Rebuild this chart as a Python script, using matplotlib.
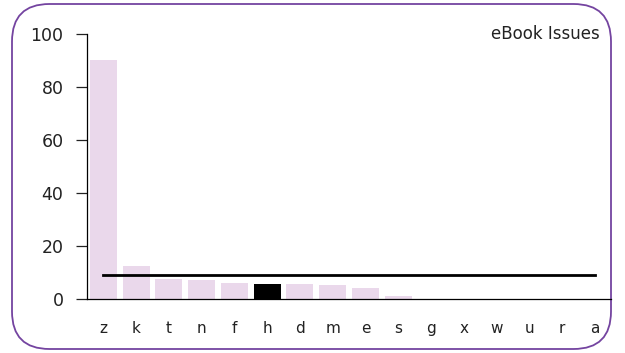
import matplotlib
matplotlib.use("Agg")
import matplotlib.pyplot as plt
from matplotlib.patches import FancyBboxPatch

categories = ["z", "k", "t", "n", "f", "h", "d", "m", "e", "s", "g", "x", "w", "u", "r", "a"]
values = [90.2, 12.5, 7.5, 7.2, 5.9, 5.8, 5.5, 5.3, 4.2, 1.1, 0, 0, 0, 0, 0, 0]
highlight = "h"
average = [9.1] * len(categories)
yticks = [0, 20, 40, 60, 80, 100]
title = "eBook Issues"

plt.rcParams['font.family'] = ['DejaVu Sans']

W, H = 625, 353
fig = plt.figure(figsize=(W / 100, H / 100), dpi=100)

# rounded border
border = FancyBboxPatch((12 / W, 4 / H), (611 - 12) / W, (349 - 4) / H,
                        boxstyle="round,pad=0,rounding_size=0.06",
                        transform=fig.transFigure, facecolor="none",
                        edgecolor="#7444a0", linewidth=1.3,
                        mutation_aspect=W / H, zorder=-1)
fig.patches.append(border)

ax = fig.add_axes([87 / W, (H - 299) / H, (611 - 87) / W, (299 - 34) / H])
ax.set_zorder(2)
ax.patch.set_alpha(0)

x = list(range(len(categories)))
colors = ["black" if c == highlight else "#ead8eb" for c in categories]
ax.bar(x, values, width=0.82, color=colors, zorder=1)
ax.plot(x, average, color="black", linewidth=2, zorder=2)

ax.set_xlim(-0.5, len(categories) - 0.5)
ax.set_ylim(0, 100)
ax.set_yticks(yticks)
ax.set_xticks(x)
ax.set_xticklabels(categories)
for s in ["top", "right"]:
    ax.spines[s].set_visible(False)
ax.spines["left"].set_linewidth(0.9)
ax.spines["bottom"].set_linewidth(0.9)
ax.tick_params(axis="x", length=0, pad=16, labelsize=11, colors="#222222")
ax.tick_params(axis="y", length=8, width=0.9, pad=9, labelsize=12.5, colors="#222222")

fig.text(600 / W, (H - 34) / H, title, ha="right", va="center", fontsize=12, color="#222222")

fig.savefig("out.png", dpi=100)
